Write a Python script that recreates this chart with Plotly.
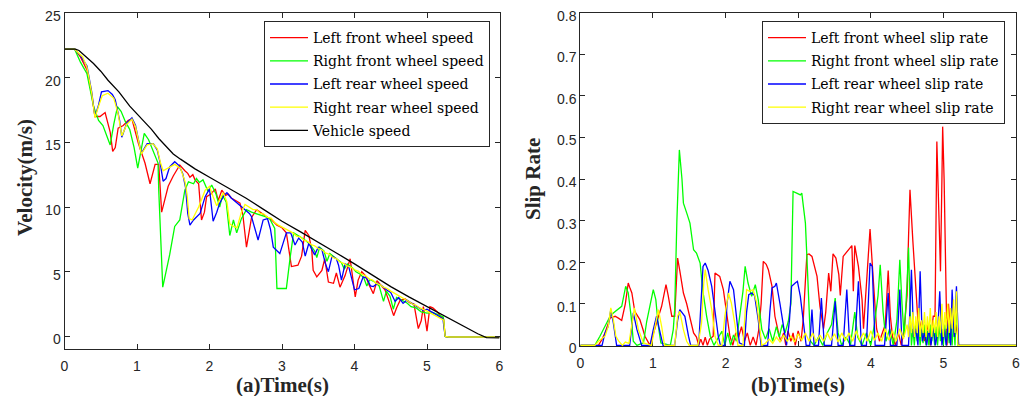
import plotly.graph_objects as go

# ---------------- (a) wheel / vehicle speed (time s, velocity m/s) ----------------
lf_speed = [(0, 22.2), (0.14, 22.2), (0.22, 21.6), (0.31, 20.6), (0.375, 18.7), (0.42, 17.0), (0.49, 17.0),
            (0.56, 17.3), (0.63, 15.8), (0.665, 14.3), (0.70, 14.6), (0.74, 16.1), (0.81, 16.3), (0.88, 16.7),
            (0.93, 16.8), (1.02, 14.9), (1.11, 13.4), (1.18, 11.8), (1.25, 13.3), (1.30, 13.3), (1.34, 9.6),
            (1.38, 10.4), (1.43, 11.6), (1.50, 12.4), (1.55, 12.9), (1.59, 13.25), (1.66, 12.8), (1.70, 12.6),
            (1.73, 12.3), (1.77, 12.5), (1.80, 12.1), (1.85, 11.8), (1.89, 9.0), (1.93, 9.6), (1.96, 10.8),
            (2.02, 11.0), (2.08, 11.4), (2.12, 10.5), (2.17, 11.3), (2.22, 10.9), (2.26, 11.0), (2.30, 10.7),
            (2.36, 10.5), (2.42, 10.3), (2.46, 9.4), (2.51, 6.9), (2.55, 8.2), (2.58, 9.2), (2.65, 9.8),
            (2.72, 9.5), (2.79, 9.25), (2.86, 9.0), (2.93, 8.6), (3.00, 8.4), (3.06, 8.0), (3.13, 5.4),
            (3.22, 5.5), (3.27, 6.2), (3.32, 8.2), (3.37, 7.8), (3.41, 6.7), (3.43, 5.1), (3.48, 4.6),
            (3.55, 5.1), (3.59, 6.0), (3.64, 4.2), (3.71, 4.1), (3.75, 4.9), (3.80, 3.8), (3.87, 4.7),
            (3.94, 6.0), (4.01, 3.06), (4.05, 4.35), (4.10, 5.0), (4.15, 4.7), (4.20, 4.0), (4.26, 3.3),
            (4.31, 4.3), (4.36, 4.0), (4.42, 3.6), (4.47, 2.8), (4.54, 1.6), (4.58, 2.2), (4.63, 2.8),
            (4.70, 2.9), (4.76, 2.6), (4.82, 2.5), (4.88, 0.6), (4.92, 1.2), (4.95, 2.3), (5.00, 0.4),
            (5.04, 2.3), (5.08, 2.2), (5.14, 1.9), (5.20, 1.5), (5.23, 1.3), (5.25, 0.0), (5.30, -0.05),
            (6.0, -0.05)]

rf_speed = [(0, 22.2), (0.14, 22.2), (0.22, 21.2), (0.31, 20.3), (0.40, 17.8), (0.47, 16.7), (0.53, 16.3),
            (0.58, 15.6), (0.63, 14.8), (0.68, 16.4), (0.73, 17.75), (0.78, 17.4), (0.84, 16.6), (0.90, 16.0),
            (0.96, 14.6), (1.01, 13.0), (1.06, 14.6), (1.10, 15.7), (1.16, 15.2), (1.22, 14.4), (1.29, 13.4),
            (1.30, 11.3), (1.355, 3.8), (1.45, 6.3), (1.52, 8.5), (1.59, 9.0), (1.64, 10.5), (1.66, 11.3),
            (1.71, 11.95), (1.78, 11.8), (1.82, 12.2), (1.86, 11.9), (1.91, 12.1), (1.98, 11.2), (2.03, 11.7),
            (2.09, 11.0), (2.14, 10.0), (2.18, 10.9), (2.23, 10.4), (2.28, 7.8), (2.33, 9.0), (2.375, 8.0),
            (2.44, 9.1), (2.51, 9.8), (2.58, 9.6), (2.64, 9.5), (2.70, 9.4), (2.77, 9.25), (2.83, 9.1),
            (2.88, 8.6), (2.90, 8.35), (2.93, 3.7), (3.06, 3.7), (3.11, 6.0), (3.16, 8.0), (3.25, 7.7),
            (3.33, 7.4), (3.40, 7.0), (3.45, 6.6), (3.48, 6.1), (3.52, 6.9), (3.58, 6.6), (3.62, 5.8),
            (3.66, 6.4), (3.75, 6.0), (3.82, 5.7), (3.86, 5.2), (3.90, 5.6), (3.97, 5.3), (4.02, 5.0),
            (4.08, 4.8), (4.13, 4.5), (4.17, 3.9), (4.21, 4.4), (4.28, 4.2), (4.34, 3.9), (4.40, 2.7),
            (4.44, 3.5), (4.49, 3.1), (4.535, 2.1), (4.58, 3.0), (4.65, 2.8), (4.72, 2.6), (4.78, 2.3),
            (4.85, 2.2), (4.92, 1.9), (5.00, 1.8), (5.08, 1.85), (5.15, 1.7), (5.225, 1.5), (5.25, 0.0),
            (5.30, -0.05), (6.0, -0.05)]

lr_speed = [(0, 22.2), (0.14, 22.2), (0.22, 21.7), (0.31, 20.9), (0.375, 18.9), (0.42, 17.0), (0.47, 17.9),
            (0.51, 18.9), (0.60, 19.0), (0.66, 18.7), (0.70, 18.3), (0.76, 16.7), (0.79, 15.4), (0.86, 16.5),
            (0.93, 16.9), (0.98, 16.3), (1.02, 15.2), (1.06, 14.15), (1.14, 14.9), (1.225, 14.9), (1.28, 14.4),
            (1.32, 13.4), (1.36, 12.0), (1.40, 12.2), (1.45, 13.1), (1.52, 13.5), (1.58, 13.2), (1.63, 12.6),
            (1.67, 11.5), (1.70, 9.5), (1.73, 8.6), (1.78, 9.0), (1.87, 9.5), (1.94, 10.8), (2.00, 11.4),
            (2.05, 8.9), (2.10, 9.6), (2.14, 10.3), (2.20, 10.9), (2.24, 11.1), (2.30, 10.7), (2.38, 10.3),
            (2.45, 10.0), (2.49, 9.8), (2.55, 9.5), (2.58, 9.25), (2.67, 7.45), (2.74, 9.0), (2.80, 9.1),
            (2.84, 8.3), (2.88, 6.9), (2.97, 6.4), (3.06, 8.0), (3.12, 8.0), (3.18, 7.06), (3.23, 7.6),
            (3.28, 7.3), (3.32, 6.2), (3.37, 7.2), (3.45, 6.3), (3.50, 6.9), (3.55, 6.7), (3.60, 5.6),
            (3.64, 5.0), (3.69, 6.2), (3.75, 6.0), (3.78, 5.5), (3.82, 4.35), (3.87, 5.6), (3.92, 5.4),
            (3.96, 4.6), (4.00, 3.6), (4.06, 3.7), (4.12, 4.6), (4.17, 4.5), (4.22, 3.9), (4.26, 3.85),
            (4.32, 4.1), (4.38, 3.9), (4.44, 3.6), (4.50, 3.4), (4.56, 2.7), (4.61, 3.0), (4.67, 2.55),
            (4.72, 2.8), (4.80, 2.5), (4.87, 2.3), (4.95, 2.0), (5.00, 2.1), (5.08, 1.8), (5.15, 1.6),
            (5.22, 1.35), (5.25, 0.0), (5.30, -0.05), (6.0, -0.05)]

rr_speed = [(0, 22.2), (0.14, 22.2), (0.25, 21.6), (0.31, 20.8), (0.375, 18.8), (0.42, 16.9), (0.47, 17.8),
            (0.52, 18.6), (0.60, 18.8), (0.68, 18.4), (0.74, 17.2), (0.79, 15.5), (0.86, 16.4), (0.93, 16.8),
            (0.98, 16.2), (1.02, 15.1), (1.06, 14.1), (1.14, 14.8), (1.22, 14.9), (1.28, 14.5), (1.32, 13.5),
            (1.36, 12.8), (1.45, 13.1), (1.52, 13.3), (1.60, 13.0), (1.66, 12.0), (1.69, 11.0), (1.72, 9.1),
            (1.76, 9.0), (1.85, 10.0), (1.94, 11.3), (2.00, 11.6), (2.05, 10.8), (2.10, 10.1), (2.19, 11.1),
            (2.24, 10.4), (2.28, 8.7), (2.33, 8.5), (2.38, 8.4), (2.44, 9.6), (2.49, 10.2), (2.55, 10.0),
            (2.60, 9.8), (2.65, 9.8), (2.70, 9.5), (2.75, 9.45), (2.80, 9.2), (2.85, 9.15), (2.90, 8.8),
            (2.95, 8.6), (3.00, 8.45), (3.05, 8.3), (3.10, 8.1), (3.15, 8.0), (3.20, 7.75), (3.25, 7.7),
            (3.30, 7.45), (3.35, 7.35), (3.40, 7.1), (3.45, 7.0), (3.50, 6.8), (3.55, 6.7), (3.60, 6.45),
            (3.65, 6.35), (3.70, 6.1), (3.75, 6.0), (3.80, 5.75), (3.85, 5.65), (3.90, 5.45), (3.95, 5.35),
            (4.00, 5.15), (4.05, 5.05), (4.10, 4.8), (4.15, 4.7), (4.20, 4.45), (4.25, 4.35), (4.30, 4.1),
            (4.35, 4.0), (4.40, 3.8), (4.45, 3.7), (4.50, 3.5), (4.55, 3.35), (4.60, 3.15), (4.65, 3.05),
            (4.70, 2.85), (4.75, 2.7), (4.80, 2.5), (4.85, 2.4), (4.90, 2.2), (4.95, 2.1), (5.00, 1.95),
            (5.05, 1.8), (5.10, 1.65), (5.15, 1.5), (5.20, 1.35), (5.23, 1.25), (5.25, 0.0), (5.30, -0.05),
            (6.0, -0.05)]

vehicle_speed = [(0, 22.2), (0.15, 22.2), (0.2, 22.1), (0.3, 21.6), (0.4, 21.1), (0.5, 20.5), (0.6, 19.8),
                 (0.75, 18.9), (0.9, 17.8), (1.0, 17.2), (1.1, 16.6), (1.2, 16.0), (1.3, 15.3), (1.4, 14.7),
                 (1.5, 14.1), (1.6, 13.7), (1.7, 13.3), (1.8, 12.95), (2.0, 12.3), (2.25, 11.5), (2.5, 10.7),
                 (2.75, 9.8), (3.0, 8.9), (3.25, 8.1), (3.5, 7.3), (3.75, 6.45), (4.0, 5.6), (4.25, 4.7),
                 (4.5, 3.85), (4.75, 3.05), (5.0, 2.3), (5.25, 1.5), (5.5, 0.75), (5.7, 0.2), (5.82, -0.1),
                 (6.0, -0.12)]

# ---------------- (b) slip rates (time s, slip) ----------------
lf_slip = [(0, 0), (0.25, 0), (0.30, 0.015), (0.34, 0.03), (0.41, 0.066), (0.48, 0.07), (0.53, 0.065),
           (0.57, 0.06), (0.62, 0.10), (0.66, 0.15), (0.68, 0.14), (0.71, 0.126), (0.75, 0.082), (0.82, 0.062),
           (0.86, 0.04), (0.89, 0.022), (0.96, 0.0), (0.99, 0.02), (1.05, 0.054), (1.12, 0.094), (1.18, 0.146),
           (1.21, 0.12), (1.235, 0.094), (1.26, 0.07), (1.30, 0.07), (1.34, 0.21), (1.37, 0.18), (1.42, 0.126),
           (1.465, 0.10), (1.51, 0.07), (1.56, 0.03), (1.60, 0.02), (1.63, 0.0), (1.66, 0.015), (1.69, 0.0),
           (1.72, 0.02), (1.75, 0.0), (1.78, 0.015), (1.83, 0.022), (1.855, 0.174), (1.89, 0.17), (1.92, 0.166),
           (1.97, 0.134), (2.02, 0.07), (2.06, 0.022), (2.10, 0.0), (2.14, 0.03), (2.18, 0.02), (2.22, 0.045),
           (2.26, 0.01), (2.30, 0.03), (2.34, 0.0), (2.38, 0.02), (2.42, 0.0), (2.46, 0.04), (2.49, 0.1),
           (2.52, 0.202), (2.56, 0.195), (2.59, 0.182), (2.64, 0.142), (2.68, 0.07), (2.73, 0.03), (2.76, 0.01),
           (2.80, 0.03), (2.83, 0.0), (2.86, 0.035), (2.90, 0.01), (2.93, 0.03), (2.96, 0.0), (3.00, 0.035),
           (3.04, 0.01), (3.07, 0.062), (3.12, 0.218), (3.15, 0.22), (3.19, 0.214), (3.26, 0.166), (3.30, 0.094),
           (3.35, 0.04), (3.38, 0.08), (3.42, 0.174), (3.45, 0.13), (3.48, 0.22), (3.52, 0.21), (3.56, 0.17),
           (3.58, 0.12), (3.62, 0.214), (3.69, 0.23), (3.74, 0.24), (3.76, 0.13), (3.78, 0.24), (3.83, 0.19),
           (3.88, 0.11), (3.90, 0.04), (3.93, 0.12), (3.95, 0.174), (3.99, 0.28), (4.03, 0.17), (4.08, 0.04),
           (4.12, 0.01), (4.16, 0.03), (4.20, 0.05), (4.24, 0.18), (4.27, 0.07), (4.30, 0.02), (4.34, 0.0),
           (4.38, 0.03), (4.42, 0.0), (4.46, 0.04), (4.50, 0.12), (4.52, 0.26), (4.54, 0.374), (4.58, 0.25),
           (4.63, 0.094), (4.66, 0.03), (4.70, 0.06), (4.74, 0.01), (4.78, 0.05), (4.82, 0.0), (4.86, 0.07),
           (4.885, 0.07), (4.91, 0.49), (4.94, 0.30), (4.96, 0.178), (4.98, 0.40), (4.99, 0.526), (5.01, 0.40),
           (5.02, 0.30), (5.05, 0.0), (5.07, 0.10), (5.10, 0.03), (5.13, 0.06), (5.16, 0.02), (5.19, 0.05),
           (5.21, 0.0), (6.0, 0.0)]

rf_slip = [(0, 0), (0.2, 0), (0.27, 0.022), (0.36, 0.054), (0.41, 0.07), (0.455, 0.078), (0.52, 0.086),
           (0.57, 0.094), (0.625, 0.142), (0.66, 0.126), (0.70, 0.07), (0.73, 0.01), (0.78, 0.0), (0.87, 0.006),
           (0.915, 0.058), (0.96, 0.094), (1.005, 0.134), (1.04, 0.11), (1.075, 0.046), (1.11, 0.006),
           (1.24, 0.0), (1.28, 0.038), (1.30, 0.086), (1.33, 0.30), (1.364, 0.47), (1.40, 0.40), (1.42, 0.342),
           (1.466, 0.318), (1.51, 0.294), (1.56, 0.23), (1.60, 0.222), (1.65, 0.198), (1.685, 0.134),
           (1.74, 0.07), (1.79, 0.022), (1.84, 0.0), (1.90, 0.02), (1.95, 0.034), (1.99, 0.0), (2.03, 0.03),
           (2.07, 0.0), (2.11, 0.025), (2.15, 0.01), (2.20, 0.082), (2.24, 0.13), (2.27, 0.19), (2.31, 0.15),
           (2.36, 0.118), (2.41, 0.146), (2.45, 0.11), (2.475, 0.07), (2.50, 0.038), (2.55, 0.015), (2.60, 0.04),
           (2.65, 0.01), (2.70, 0.045), (2.74, 0.02), (2.78, 0.05), (2.82, 0.03), (2.865, 0.058), (2.90, 0.1),
           (2.93, 0.37), (2.98, 0.366), (3.03, 0.362), (3.05, 0.366), (3.10, 0.294), (3.12, 0.214),
           (3.15, 0.078), (3.17, 0.01), (3.22, 0.0), (3.28, 0.02), (3.34, 0.0), (3.40, 0.03), (3.46, 0.05),
           (3.51, 0.114), (3.55, 0.03), (3.60, 0.0), (3.66, 0.02), (3.72, 0.0), (3.78, 0.08), (3.82, 0.02),
           (3.88, 0.0), (3.94, 0.03), (4.00, 0.0), (4.05, 0.05), (4.10, 0.12), (4.13, 0.194), (4.17, 0.08),
           (4.21, 0.01), (4.26, 0.04), (4.31, 0.0), (4.36, 0.06), (4.40, 0.206), (4.43, 0.10), (4.46, 0.02),
           (4.50, 0.15), (4.52, 0.235), (4.54, 0.1), (4.56, 0.0), (4.58, 0.04), (4.60, 0.0), (4.62, 0.05),
           (4.64, 0.01), (4.66, 0.045), (4.68, 0.0), (4.70, 0.04), (4.72, 0.005), (4.74, 0.05), (4.76, 0.0),
           (4.78, 0.035), (4.80, 0.0), (4.82, 0.05), (4.84, 0.01), (4.86, 0.04), (4.88, 0.0), (4.90, 0.045),
           (4.92, 0.0), (4.94, 0.05), (4.96, 0.01), (4.98, 0.04), (5.00, 0.0), (5.02, 0.05), (5.04, 0.0),
           (5.06, 0.045), (5.08, 0.005), (5.10, 0.05), (5.12, 0.0), (5.14, 0.06), (5.16, 0.0), (5.18, 0.12),
           (5.20, 0.0), (6.0, 0.0)]

lr_slip = [(0, 0), (0.30, 0), (0.34, 0.03), (0.385, 0.046), (0.42, 0.086), (0.455, 0.054), (0.50, 0.0),
           (0.68, 0.0), (0.73, 0.078), (0.78, 0.038), (0.845, 0.0), (0.96, 0.0), (1.005, 0.038), (1.05, 0.07),
           (1.10, 0.03), (1.14, 0.0), (1.30, 0.0), (1.34, 0.06), (1.37, 0.086), (1.44, 0.07), (1.49, 0.022),
           (1.52, 0.0), (1.63, 0.0), (1.66, 0.1), (1.69, 0.19), (1.72, 0.198), (1.76, 0.18), (1.81, 0.142),
           (1.855, 0.086), (1.90, 0.022), (1.93, 0.0), (1.99, 0.0), (2.02, 0.1), (2.06, 0.154), (2.11, 0.134),
           (2.15, 0.07), (2.19, 0.006), (2.26, 0.0), (2.29, 0.08), (2.32, 0.122), (2.36, 0.126), (2.40, 0.12),
           (2.45, 0.062), (2.49, 0.0), (2.58, 0.0), (2.61, 0.08), (2.64, 0.138), (2.68, 0.142), (2.70, 0.15),
           (2.75, 0.10), (2.80, 0.04), (2.84, 0.0), (2.88, 0.06), (2.91, 0.142), (2.96, 0.15), (2.99, 0.154),
           (3.03, 0.118), (3.07, 0.062), (3.11, 0.0), (3.16, 0.0), (3.19, 0.086), (3.22, 0.0), (3.28, 0.0),
           (3.32, 0.114), (3.36, 0.0), (3.46, 0.0), (3.51, 0.106), (3.55, 0.0), (3.62, 0.0), (3.67, 0.134),
           (3.71, 0.0), (3.78, 0.0), (3.83, 0.154), (3.87, 0.0), (3.94, 0.0), (3.99, 0.198), (4.02, 0.19),
           (4.06, 0.0), (4.19, 0.0), (4.24, 0.126), (4.27, 0.0), (4.36, 0.0), (4.40, 0.134), (4.43, 0.0),
           (4.52, 0.0), (4.56, 0.182), (4.59, 0.02), (4.62, 0.04), (4.65, 0.0), (4.68, 0.178), (4.71, 0.01),
           (4.74, 0.03), (4.77, 0.0), (4.80, 0.04), (4.83, 0.0), (4.86, 0.05), (4.89, 0.0), (4.92, 0.03),
           (4.95, 0.13), (4.98, 0.0), (5.01, 0.04), (5.04, 0.0), (5.07, 0.06), (5.10, 0.0), (5.12, 0.134),
           (5.15, 0.02), (5.18, 0.142), (5.21, 0.0), (6.0, 0.0)]

rr_slip = [(0, 0), (0.20, 0), (0.25, 0.01), (0.34, 0.022), (0.385, 0.046), (0.42, 0.09), (0.455, 0.062),
           (0.49, 0.022), (0.53, 0.01), (0.58, 0.0), (0.62, 0.008), (0.67, 0.005), (0.72, 0.062), (0.745, 0.09),
           (0.80, 0.038), (0.87, 0.006), (0.98, 0.0), (1.03, 0.046), (1.075, 0.086), (1.12, 0.046), (1.16, 0.0),
           (1.30, 0.0), (1.34, 0.07), (1.37, 0.082), (1.42, 0.038), (1.465, 0.01), (1.50, 0.0), (1.62, 0.0),
           (1.67, 0.054), (1.70, 0.15), (1.72, 0.182), (1.76, 0.134), (1.81, 0.086), (1.855, 0.022), (1.90, 0.0),
           (1.95, 0.0), (1.99, 0.07), (2.04, 0.126), (2.08, 0.102), (2.13, 0.05), (2.17, 0.0), (2.24, 0.0),
           (2.27, 0.08), (2.29, 0.134), (2.33, 0.13), (2.38, 0.134), (2.43, 0.102), (2.475, 0.038), (2.50, 0.0),
           (2.55, 0.005), (2.60, 0.015), (2.65, 0.005), (2.70, 0.02), (2.75, 0.008), (2.80, 0.025), (2.85, 0.01),
           (2.90, 0.022), (2.95, 0.008), (3.00, 0.028), (3.05, 0.012), (3.10, 0.03), (3.15, 0.01), (3.20, 0.03),
           (3.25, 0.008), (3.30, 0.025), (3.35, 0.01), (3.40, 0.03), (3.45, 0.012), (3.50, 0.028), (3.55, 0.008),
           (3.60, 0.03), (3.65, 0.012), (3.70, 0.03), (3.75, 0.01), (3.80, 0.035), (3.85, 0.012), (3.90, 0.03),
           (3.95, 0.01), (4.00, 0.035), (4.05, 0.012), (4.10, 0.03), (4.15, 0.01), (4.20, 0.04), (4.25, 0.012),
           (4.30, 0.035), (4.35, 0.01), (4.40, 0.04), (4.45, 0.015), (4.50, 0.05), (4.52, 0.02), (4.54, 0.07),
           (4.56, 0.03), (4.58, 0.08), (4.60, 0.02), (4.62, 0.07), (4.64, 0.03), (4.66, 0.09), (4.68, 0.02),
           (4.70, 0.06), (4.72, 0.03), (4.74, 0.08), (4.76, 0.02), (4.78, 0.07), (4.80, 0.03), (4.82, 0.09),
           (4.84, 0.02), (4.86, 0.06), (4.88, 0.03), (4.90, 0.08), (4.92, 0.02), (4.94, 0.07), (4.96, 0.03),
           (4.98, 0.1), (5.00, 0.02), (5.02, 0.08), (5.04, 0.04), (5.06, 0.1), (5.08, 0.03), (5.10, 0.09),
           (5.12, 0.04), (5.14, 0.11), (5.16, 0.03), (5.18, 0.13), (5.20, 0.0), (6.0, 0.0)]

speed_names = ["Left front wheel speed", "Right front wheel speed", "Left rear wheel speed",
               "Right rear wheel speed", "Vehicle speed"]
slip_names = ["Left front wheel slip rate", "Right front wheel slip rate", "Left rear wheel slip rate",
              "Right rear wheel slip rate"]
colors = ["#FF0000", "#00FF00", "#0000FF", "#FFFF00", "#000000"]

# The page body has an 8px margin; the figure is sized so that it fills the rest of the 1029x396 window.
OFF = 8
W, H = 1029 - OFF, 396 - OFF


def fx(px):
    return (px - OFF) / W


def fy(py):
    return 1 - (py - OFF) / H


fig = go.Figure()

for i, (name, series, col) in enumerate(zip(speed_names, [lf_speed, rf_speed, lr_speed, rr_speed, vehicle_speed], colors)):
    fig.add_trace(go.Scatter(x=[p[0] for p in series], y=[p[1] for p in series], mode="lines", name=name,
                             line=dict(color=col, width=1.3), xaxis="x", yaxis="y", legend="legend",
                             legendgroup="a%d" % i))

for i, (name, series, col) in enumerate(zip(slip_names, [lf_slip, rf_slip, lr_slip, rr_slip], colors)):
    fig.add_trace(go.Scatter(x=[p[0] for p in series], y=[p[1] for p in series], mode="lines", name=name,
                             line=dict(color=col, width=1.3), xaxis="x2", yaxis="y2", legend="legend2",
                             legendgroup="b%d" % i))

axis_common = dict(showline=True, linecolor="#262626", linewidth=1, mirror="ticks", ticks="inside",
                   ticklen=5, tickcolor="#262626", showgrid=False, zeroline=False, automargin=False,
                   ticklabeloverflow="allow",
                   tickfont=dict(family="Liberation Sans, Arial", size=14, color="#262626"))

legend_common = dict(y=fy(21), yanchor="top", xanchor="right", bgcolor="white",
                     bordercolor="#262626", borderwidth=1, itemwidth=38, tracegroupgap=2,
                     font=dict(family="DejaVu Serif", size=14, color="#000000"))

fig.update_layout(
    width=W, height=H, margin=dict(l=0, r=0, t=0, b=0, pad=0, autoexpand=False),
    paper_bgcolor="white", plot_bgcolor="white", showlegend=True,
    xaxis=dict(domain=[fx(64.5), fx(499.5)], range=[0, 6], dtick=1, anchor="y", ticklabelstandoff=4,
               **axis_common),
    yaxis=dict(domain=[fy(349.3), fy(13)], range=[-1, 25], dtick=5, tick0=0, anchor="x", ticklabelshift=3,
               **axis_common),
    xaxis2=dict(domain=[fx(580.3), fx(1016)], range=[0, 6], dtick=1, anchor="y2", ticklabelstandoff=4,
                layer="below traces", **axis_common),
    yaxis2=dict(domain=[fy(346), fy(12.7)], range=[-0.0015, 0.8], dtick=0.1, tick0=0, anchor="x2",
                ticklabelshift=3, **axis_common),
    legend=dict(x=fx(490), **legend_common),
    legend2=dict(x=fx(1005), **legend_common),
)

title_font = dict(family="Liberation Serif, Times New Roman", size=21, color="#262626")
annos = [
    dict(text="<b>(a)Time(s)</b>", x=fx(282), y=fy(385), textangle=0),
    dict(text="<b>(b)Time(s)</b>", x=fx(798), y=fy(385), textangle=0),
    dict(text="<b>Velocity(m/s)</b>", x=fx(25), y=fy(178), textangle=-90),
    dict(text="<b>Slip Rate</b>", x=fx(533), y=fy(179), textangle=-90),
]
for a in annos:
    fig.add_annotation(xref="paper", yref="paper", showarrow=False, xanchor="center", yanchor="middle",
                       font=title_font, **a)

fig.write_html("out.html", config={"displayModeBar": False})
